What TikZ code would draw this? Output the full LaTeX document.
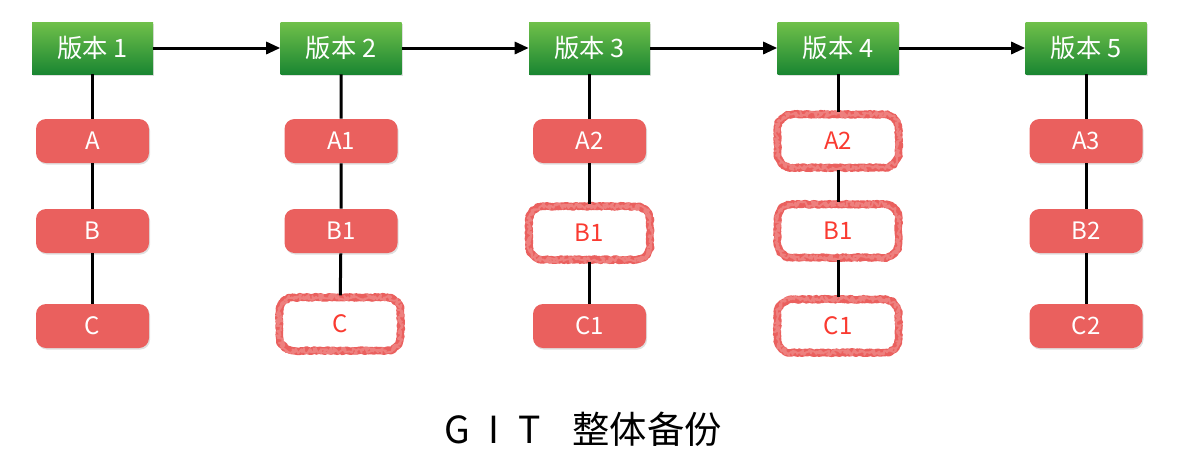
\documentclass[tikz,border=0pt]{standalone}
\usepackage{fontspec}
\setmainfont{Noto Sans CJK SC}
\usetikzlibrary{arrows.meta,shadows,decorations.pathmorphing}

\definecolor{vergreentop}{RGB}{112,192,74}
\definecolor{vergreenbot}{RGB}{26,134,50}
\definecolor{boxred}{RGB}{234,96,94}
\definecolor{markred}{RGB}{250,58,48}

\tikzset{
  version/.style={minimum width=90.75pt,minimum height=39pt,inner sep=0pt,
    top color=vergreentop,bottom color=vergreenbot,text=white,
    font=\fontsize{19}{19}\selectfont,
    drop shadow={opacity=0.25,shadow xshift=0.8pt,shadow yshift=-1.2pt}},
  part/.style={minimum width=84.75pt,minimum height=33pt,inner sep=0pt,
    rounded corners=7.5pt,fill=boxred,text=white,
    font=\fontsize{18}{18}\selectfont,
    drop shadow={opacity=0.25,shadow xshift=0.8pt,shadow yshift=-1.2pt}},
  changed/.style={minimum width=91pt,minimum height=40pt,inner sep=0pt,
    rounded corners=11pt,fill=white,outer sep=1.5pt,
    postaction={draw=boxred,line width=5.6pt,line join=round,sharp corners,
      decorate,decoration={random steps,segment length=1pt,amplitude=0.6pt}},
    postaction={draw=boxred!80,line width=1.4pt,line join=round,sharp corners,
      decorate,decoration={random steps,segment length=0.8pt,amplitude=2.2pt}},
    text=markred,font=\fontsize{18}{18}\selectfont},
  link/.style={line width=2.25pt},
  nextver/.style={line width=2.25pt,-{Triangle[length=10.5pt,width=9pt]}}
}

\begin{document}
\begin{tikzpicture}[x=0.75pt,y=0.75pt,yscale=-1,xscale=1]
\useasboundingbox (0,0) rectangle (1190,472);

% versions
\node[version] (v1) at (92.5,48) {版本 1};
\node[version] (v2) at (341,48) {版本 2};
\node[version] (v3) at (589.5,48) {版本 3};
\node[version] (v4) at (838,48) {版本 4};
\node[version] (v5) at (1086,48) {版本 5};

% column 1
\node[part] (a1) at (92.5,141) {A};
\node[part] (b1) at (92.5,231) {B};
\node[part] (c1) at (92.5,326) {C};
% column 2
\node[part] (a2) at (341,141) {A1};
\node[part] (b2) at (341,231) {B1};
\node[changed] (c2) at (340,324) {C};
% column 3
\node[part] (a3) at (589.5,141) {A2};
\node[changed] (b3) at (589.5,233) {B1};
\node[part] (c3) at (589.5,326) {C1};
% column 4
\node[changed] (a4) at (838,141) {A2};
\node[changed] (b4) at (838,231) {B1};
\node[changed] (c4) at (838,326) {C1};
% column 5
\node[part] (a5) at (1086,141) {A3};
\node[part] (b5) at (1086,231) {B2};
\node[part] (c5) at (1086,326) {C2};

% links
\draw[link] (v1) -- (a1) (a1) -- (b1) (b1) -- (c1);
\draw[link] (v2) -- (a2) (a2) -- (b2) (b2) -- (c2);
\draw[link] (v3) -- (a3) (a3) -- (b3) (b3) -- (c3);
\draw[link] (v4) -- (a4) (a4) -- (b4) (b4) -- (c4);
\draw[link] (v5) -- (a5) (a5) -- (b5) (b5) -- (c5);

% history
\draw[nextver] (v1) -- (v2);
\draw[nextver] (v2) -- (v3);
\draw[nextver] (v3) -- (v4);
\draw[nextver] (v4) -- (v5);

% Text Node
\node[font=\fontsize{28}{28}\selectfont] (title) at (583,429)
  {G\hspace{14pt}I\hspace{14pt}T\hspace{24pt}整体备份};

\end{tikzpicture}
\end{document}
